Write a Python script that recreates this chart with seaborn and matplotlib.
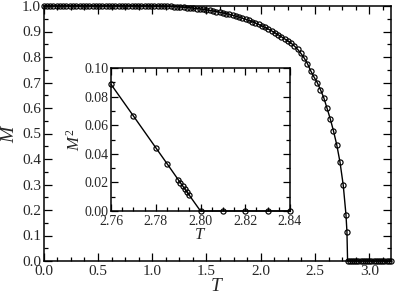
import numpy as np
import pandas as pd
import matplotlib
matplotlib.use("Agg")
import matplotlib.pyplot as plt
import seaborn as sns
from matplotlib.ticker import MultipleLocator

# ---------------- data ----------------
T_main = [0.00, 0.03, 0.06, 0.09, 0.12, 0.15, 0.18, 0.21, 0.24, 0.27,
          0.30, 0.33, 0.36, 0.39, 0.42, 0.45, 0.48, 0.51, 0.54, 0.57,
          0.60, 0.63, 0.66, 0.69, 0.72, 0.75, 0.78, 0.81, 0.84, 0.87,
          0.90, 0.93, 0.96, 0.99, 1.02, 1.05, 1.08, 1.11, 1.14, 1.17,
          1.20, 1.23, 1.26, 1.29, 1.32, 1.35, 1.38, 1.41, 1.44, 1.47,
          1.50, 1.53, 1.56, 1.59, 1.62, 1.65, 1.68, 1.71, 1.74, 1.77,
          1.80, 1.83, 1.86, 1.89, 1.92, 1.95, 1.98, 2.01, 2.04, 2.07,
          2.10, 2.13, 2.16, 2.19, 2.22, 2.25, 2.28, 2.31, 2.34, 2.37,
          2.40, 2.43, 2.46, 2.49, 2.52, 2.55, 2.58, 2.61, 2.64, 2.67,
          2.70, 2.73, 2.76, 2.785, 2.794,
          2.80, 2.82, 2.84, 2.86, 2.88, 2.90, 2.92, 2.94, 2.96, 2.98,
          3.00, 3.02, 3.04, 3.06, 3.08, 3.10, 3.12, 3.14, 3.16, 3.18, 3.20]
M_main = [1.000, 1.000, 1.000, 1.000, 1.000, 1.000, 1.000, 1.000, 1.000, 1.000,
          1.000, 1.000, 1.000, 1.000, 1.000, 1.000, 1.000, 1.000, 1.000, 1.000,
          1.000, 1.000, 1.000, 1.000, 1.000, 1.000, 1.000, 1.000, 1.000, 1.000,
          1.000, 1.000, 0.9999, 0.9998, 0.9997, 0.9995, 0.9993, 0.9990, 0.9986, 0.9981,
          0.9975, 0.9968, 0.9960, 0.9951, 0.9940, 0.9928, 0.9915, 0.9900, 0.9884, 0.9867,
          0.9848, 0.9828, 0.9806, 0.9782, 0.9757, 0.9730, 0.9701, 0.9670, 0.9637, 0.9601,
          0.9563, 0.9523, 0.9480, 0.9434, 0.9385, 0.9333, 0.9278, 0.9220, 0.9158, 0.9093,
          0.9024, 0.8951, 0.8874, 0.8792, 0.8710, 0.8630, 0.8540, 0.8430, 0.8300, 0.8140,
          0.7960, 0.7740, 0.7460, 0.7220, 0.7000, 0.6720, 0.6410, 0.6000, 0.5580, 0.5100,
          0.4560, 0.3880, 0.2970, 0.1820, 0.1150,
          0.0, 0.0, 0.0, 0.0, 0.0, 0.0, 0.0, 0.0, 0.0, 0.0,
          0.0, 0.0, 0.0, 0.0, 0.0, 0.0, 0.0, 0.0, 0.0, 0.0, 0.0]

T_inset = [2.760, 2.770, 2.780, 2.785, 2.790, 2.791, 2.792, 2.793, 2.794, 2.795,
           2.800, 2.810, 2.820, 2.830, 2.840]
M2_inset = [0.0886, 0.0665, 0.0443, 0.0332, 0.0220, 0.0198, 0.0176, 0.0154, 0.0132, 0.0110,
            0.0, 0.0, 0.0, 0.0, 0.0]

main_xticks = [0.0, 0.5, 1.0, 1.5, 2.0, 2.5, 3.0]
main_yticks = [0.0, 0.1, 0.2, 0.3, 0.4, 0.5, 0.6, 0.7, 0.8, 0.9, 1.0]
inset_xticks = [2.76, 2.78, 2.80, 2.82, 2.84]
inset_yticks = [0.00, 0.02, 0.04, 0.06, 0.08, 0.10]

df_main = pd.DataFrame({"T": T_main, "M": M_main})
df_in = pd.DataFrame({"T": T_inset, "M2": M2_inset})

# ---------------- style ----------------
sns.set_style("ticks")
plt.rcParams["font.family"] = ["Liberation Serif", "DejaVu Serif"]
plt.rcParams["mathtext.fontset"] = "custom"
plt.rcParams["mathtext.rm"] = "Liberation Serif"
plt.rcParams["mathtext.it"] = "Liberation Serif:italic"

fig = plt.figure(figsize=(3.95, 2.98), dpi=100)
fig.patch.set_facecolor("white")

W, H = 395.0, 298.0
ax = fig.add_axes([43.7 / W, 1 - 261 / H, (391 - 43.7) / W, (261 - 6) / H])
ins = fig.add_axes([111 / W, 1 - 211 / H, (290 - 111) / W, (211 - 68) / H])

line_kw = dict(color="black", linewidth=1.0, marker="o", markersize=3.7,
               markerfacecolor="none", markeredgecolor="black",
               markeredgewidth=0.85, sort=False, estimator=None, clip_on=False)

sns.lineplot(data=df_main, x="T", y="M", ax=ax, zorder=5, **line_kw)
sns.lineplot(data=df_in, x="T", y="M2", ax=ins, zorder=5, **line_kw)

def style_axes(a, xlim, ylim, xt, yt, xminor, yminor, fs, major_len, minor_len, xfmt, yfmt):
    a.set_xlim(*xlim)
    a.set_ylim(*ylim)
    a.set_xticks(xt)
    a.set_yticks(yt)
    a.set_xticklabels([xfmt.format(v) for v in xt])
    a.set_yticklabels([yfmt.format(v) for v in yt])
    a.xaxis.set_minor_locator(MultipleLocator(xminor))
    a.yaxis.set_minor_locator(MultipleLocator(yminor))
    a.tick_params(which="both", direction="in", top=True, right=True,
                  color="black", width=0.9, labelsize=fs)
    a.tick_params(which="major", length=major_len)
    a.tick_params(which="minor", length=minor_len)
    a.tick_params(axis="x", which="major", pad=3)
    a.tick_params(axis="y", which="major", pad=2)
    for s in a.spines.values():
        s.set_visible(True)
        s.set_linewidth(1.1)
        s.set_color("black")
    a.set_facecolor("white")

style_axes(ax, (0.0, 3.2), (0.0, 1.0), main_xticks, main_yticks, 0.125, 0.05,
           11, 6.0, 3.2, "{:.1f}", "{:.1f}")
style_axes(ins, (2.76, 2.84), (0.0, 0.1), inset_xticks, inset_yticks, 0.005, 0.01,
           10, 5.0, 2.8, "{:.2f}", "{:.2f}")

ax.set_xlabel("$T$", fontsize=14, labelpad=0)
ax.set_ylabel("$M$", fontsize=14, labelpad=3)
ins.set_xlabel("$T$", fontsize=12, labelpad=-1)
ins.set_ylabel("$M^2$", fontsize=12, labelpad=0)

ax.grid(False)
ins.grid(False)

fig.savefig("out.png", dpi=100, facecolor="white")
